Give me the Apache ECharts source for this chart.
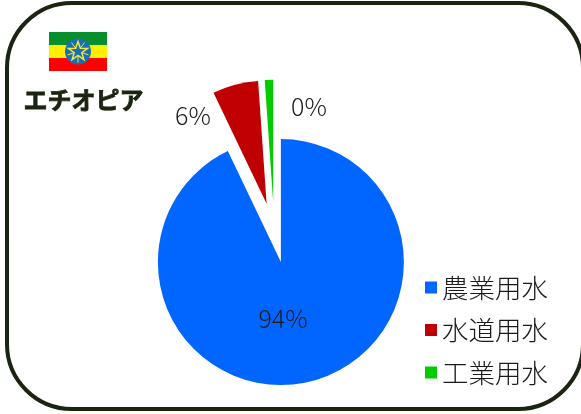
<!DOCTYPE html>
<html>
<head>
<meta charset="utf-8">
<style>html,body{margin:0;padding:0;background:#fff}#chart{width:581px;height:414px}</style>
<script src="https://cdn.jsdelivr.net/npm/echarts@6/dist/echarts.min.js"></script>
</head>
<body>
<div id="chart"></div>
<script>
var countryName = 'エチオピア';
var categories = ['農業用水', '水道用水', '工業用水'];
var sliceValues = [92.9, 6.0, 1.1];
var sliceLabels = ['94%', '6%', '0%'];
var sliceColors = ['#0066ff', '#c00000', '#00cc00'];

var myChart = echarts.init(document.getElementById('chart'));
var font = '"Noto Sans CJK JP"';
// 各ラベルの位置
var labelPos = [[283, 318], [193, 115], [309, 106]];

// 国旗の星
function starPoints(cx, cy, r1, r2) {
    var pts = [];
    for (var i = 0; i < 10; i++) {
        var r = i % 2 ? r2 : r1;
        var a = -Math.PI / 2 + i * Math.PI / 5;
        pts.push([cx + r * Math.cos(a), cy + r * Math.sin(a)]);
    }
    return pts;
}
function rays(cx, cy, r1, r2) {
    var list = [];
    for (var i = 0; i < 5; i++) {
        var a = Math.PI / 2 + i * 2 * Math.PI / 5;
        list.push({type: 'line', shape: {x1: cx + r1 * Math.cos(a), y1: cy + r1 * Math.sin(a), x2: cx + r2 * Math.cos(a), y2: cy + r2 * Math.sin(a)}, style: {stroke: '#f2e93a', lineWidth: 1}});
    }
    return list;
}

var option = {
    backgroundColor: '#fff',
    animation: false,
    legend: {
        orient: 'vertical',
        left: 420,
        top: 264,
        icon: 'rect',
        itemWidth: 12,
        itemHeight: 12,
        itemGap: 5.5,
        selectedMode: false,
        data: categories,
        textStyle: {
            fontFamily: font,
            fontSize: 26.5,
            fontWeight: 300,
            color: '#1a1a1a',
            lineHeight: 30,
            padding: [7, 0, 0, 0]
        }
    },
    series: [{
        type: 'pie',
        z: 2,
        center: [274.25, 232.8],
        radius: 123,
        startAngle: 90,
        clockwise: true,
        selectedMode: 'multiple',
        selectedOffset: 30,
        silent: true,
        itemStyle: {borderWidth: 0},
        labelLine: {show: false},
        label: {show: false},
        data: categories.map(function (name, i) {
            return {name: name, value: sliceValues[i], selected: true, itemStyle: {color: sliceColors[i]}};
        })
    }, {
        // ラベル専用 (選択状態だとlabelLayoutのx,yが効かないため)
        type: 'pie',
        z: 5,
        center: [274.25, 232.8],
        radius: 123,
        startAngle: 90,
        silent: true,
        selectedMode: false,
        itemStyle: {color: 'transparent', borderWidth: 0},
        labelLine: {show: false},
        label: {
            show: true,
            formatter: function (p) { return sliceLabels[p.dataIndex]; },
            fontFamily: font,
            fontSize: 25,
            fontWeight: 300,
            color: '#1a1a1a'
        },
        labelLayout: function (p) {
            return {x: labelPos[p.dataIndex][0], y: labelPos[p.dataIndex][1], align: 'center', verticalAlign: 'middle'};
        },
        data: categories.map(function (name, i) {
            return {name: name, value: sliceValues[i]};
        })
    }],
    graphic: [
        {type: 'rect', shape: {x: 7, y: 3, width: 576, height: 406, r: 65}, style: {fill: 'none', stroke: '#1a2410', lineWidth: 4}},
        {type: 'rect', shape: {x: 49, y: 32, width: 58, height: 13}, style: {fill: '#078f2f'}},
        {type: 'rect', shape: {x: 49, y: 45, width: 58, height: 13}, style: {fill: '#fcf000'}},
        {type: 'rect', shape: {x: 49, y: 58, width: 58, height: 13}, style: {fill: '#ff0000'}},
        {type: 'circle', shape: {cx: 78, cy: 51.5, r: 13}, style: {fill: '#1a6eb5'}},
        {type: 'polygon', shape: {points: starPoints(78, 51.5, 10, 4)}, style: {fill: 'none', stroke: '#f2e93a', lineWidth: 1.5}},
        {type: 'text', left: 23, top: 87, style: {text: countryName, font: 'bold 24px ' + font, fill: '#1a2410', stroke: '#1a2410', lineWidth: 0.8}}
    ].concat(rays(78, 51.5, 4, 11))
};
myChart.setOption(option);
</script>
</body>
</html>
